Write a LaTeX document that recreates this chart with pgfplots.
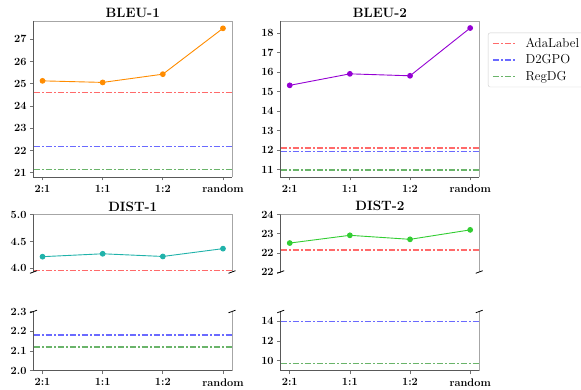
\documentclass[border=0pt]{standalone}
\usepackage{pgfplots}
\pgfplotsset{compat=1.18}
\definecolor{cAda}{HTML}{FF6A6A}
\definecolor{cD2}{HTML}{6A6AFF}
\definecolor{cReg}{HTML}{6AB46A}
\definecolor{cB1}{HTML}{FF8C00}
\definecolor{cB2}{HTML}{9400D3}
\definecolor{cD1}{HTML}{20B2AA}
\definecolor{cDi2}{HTML}{32CD32}
\tikzset{dd/.style={dash pattern=on 6.5pt off 2pt on 1.5pt off 2pt, line width=1.4pt}}
\pgfplotsset{
  base/.style={scale only axis, width=198.5pt, xmin=-0.15, xmax=3.15, clip=false,
    xtick={0,1,2,3}, xticklabels={2:1,1:1,1:2,random},
    axis line style={draw=none}, tick align=outside, major tick length=3.5pt,
    tick style={black!55, line width=0.7pt}, xtick pos=bottom, ytick pos=left,
    ticklabel style={font=\fontsize{11}{13}\bfseries\selectfont},
    xticklabel style={yshift=-1pt},
    title style={font=\fontsize{13.5}{15}\bfseries\selectfont, yshift=-6pt},
    datal/.style={line width=0.9pt, mark=*, mark size=2.4pt, mark options={solid}},
  },
  fullbox/.style={after end axis/.code={
    \draw[black!35, line width=0.8pt] (rel axis cs:0,1) -- (rel axis cs:1,1) -- (rel axis cs:1,0);
    \draw[black!65, line width=0.8pt] (rel axis cs:0,1) -- (rel axis cs:0,0) -- (rel axis cs:1,0);}},
  upperbox/.style={xticklabels={}, major x tick style={draw=none}, after end axis/.code={
    \draw[black!35, line width=0.8pt] (rel axis cs:0,1) -- (rel axis cs:1,1) -- (rel axis cs:1,0);
    \draw[black!65, line width=0.8pt] (rel axis cs:0,1) -- (rel axis cs:0,0);
    \draw[black, line width=0.8pt] (rel axis cs:0,0) ++(-3.5pt,-1.3pt) -- ++(7pt,2.6pt);
    \draw[black, line width=0.8pt] (rel axis cs:1,0) ++(-3.5pt,-1.3pt) -- ++(7pt,2.6pt);}},
  lowerbox/.style={after end axis/.code={
    \draw[black!35, line width=0.8pt] (rel axis cs:1,1) -- (rel axis cs:1,0);
    \draw[black!65, line width=0.8pt] (rel axis cs:0,1) -- (rel axis cs:0,0) -- (rel axis cs:1,0);
    \draw[black, line width=0.8pt] (rel axis cs:0,1) ++(-3.5pt,-1.3pt) -- ++(7pt,2.6pt);
    \draw[black, line width=0.8pt] (rel axis cs:1,1) ++(-3.5pt,-1.3pt) -- ++(7pt,2.6pt);}},
}
\begin{document}
\begin{tikzpicture}
\useasboundingbox (0,0) rectangle (581pt,390pt);
\clip (0,0) rectangle (581pt,390pt);

% BLEU-1
\begin{axis}[base, fullbox, at={(33.5pt,213pt)}, anchor=south west, height=156pt,
  ymin=20.81, ymax=27.82, ytick={21,22,23,24,25,26,27}, yticklabels={21,22,23,24,25,26,27},
  title={BLEU-1}]
\addplot[cAda, dd] coordinates {(-0.15,24.61) (3.15,24.61)};
\addplot[cD2, dd] coordinates {(-0.15,22.17) (3.15,22.17)};
\addplot[cReg, dd] coordinates {(-0.15,21.15) (3.15,21.15)};
\addplot[cB1, datal] coordinates {(0,25.13) (1,25.06) (2,25.43) (3,27.49)};
\end{axis}

% BLEU-2
\begin{axis}[base, fullbox, at={(280.7pt,213pt)}, anchor=south west, height=156pt,
  ymin=10.62, ymax=18.62, ytick={11,12,13,14,15,16,17,18}, yticklabels={11,12,13,14,15,16,17,18},
  title={BLEU-2},
  legend style={at={(1.044,0.925)}, anchor=north west, draw=black!20, rounded corners=2pt,
    font=\fontsize{13}{15}\selectfont, row sep=2pt, inner xsep=4pt, inner ysep=3pt,
    /tikz/every even column/.append style={column sep=0pt}},
  legend cell align=left,
  legend image code/.code={\draw[#1] (0pt,0pt) -- (24pt,0pt); \path (30pt,0pt);}]
\addplot[cAda, dd] coordinates {(-0.15,12.11) (3.15,12.11)};
\addlegendentry{AdaLabel}
\addplot[cD2, dd] coordinates {(-0.15,11.94) (3.15,11.94)};
\addlegendentry{D2GPO}
\addplot[cReg, dd] coordinates {(-0.15,10.98) (3.15,10.98)};
\addlegendentry{RegDG}
\addplot[cB2, datal, forget plot] coordinates {(0,15.32) (1,15.91) (2,15.81) (3,18.26)};
\end{axis}

% DIST-1 upper
\begin{axis}[base, upperbox, at={(33.5pt,118pt)}, anchor=south west, height=57.3pt,
  ymin=3.93, ymax=5.0, ytick={4.0,4.5,5.0}, yticklabels={4.0,4.5,5.0},
  title={DIST-1}]
\addplot[cAda, dd] coordinates {(-0.15,3.96) (3.15,3.96)};
\addplot[cD1, datal] coordinates {(0,4.216) (1,4.27) (2,4.22) (3,4.366)};
\end{axis}

% DIST-1 lower
\begin{axis}[base, lowerbox, at={(33.5pt,19.3pt)}, anchor=south west, height=59.2pt,
  ymin=2.0, ymax=2.3, ytick={2.0,2.1,2.2,2.3}, yticklabels={2.0,2.1,2.2,2.3}]
\addplot[cD2, dd] coordinates {(-0.15,2.18) (3.15,2.18)};
\addplot[cReg, dd] coordinates {(-0.15,2.12) (3.15,2.12)};
\end{axis}

% DIST-2 upper
\begin{axis}[base, upperbox, at={(280.7pt,118pt)}, anchor=south west, height=57.3pt,
  ymin=22, ymax=24, ytick={22,22.6667,23.3333,24}, yticklabels={22,22,23,24},
  title={DIST-2}]
\addplot[cAda, dd] coordinates {(-0.15,22.77) (3.15,22.77)};
\addplot[cDi2, datal] coordinates {(0,23.01) (1,23.28) (2,23.14) (3,23.47)};
\end{axis}

% DIST-2 lower
\begin{axis}[base, lowerbox, at={(280.7pt,19.3pt)}, anchor=south west, height=59.2pt,
  ymin=9, ymax=15, ytick={10,12,14}, yticklabels={10,12,14}]
\addplot[cD2, dd] coordinates {(-0.15,13.97) (3.15,13.97)};
\addplot[cReg, dd] coordinates {(-0.15,9.73) (3.15,9.73)};
\end{axis}
\end{tikzpicture}
\end{document}
